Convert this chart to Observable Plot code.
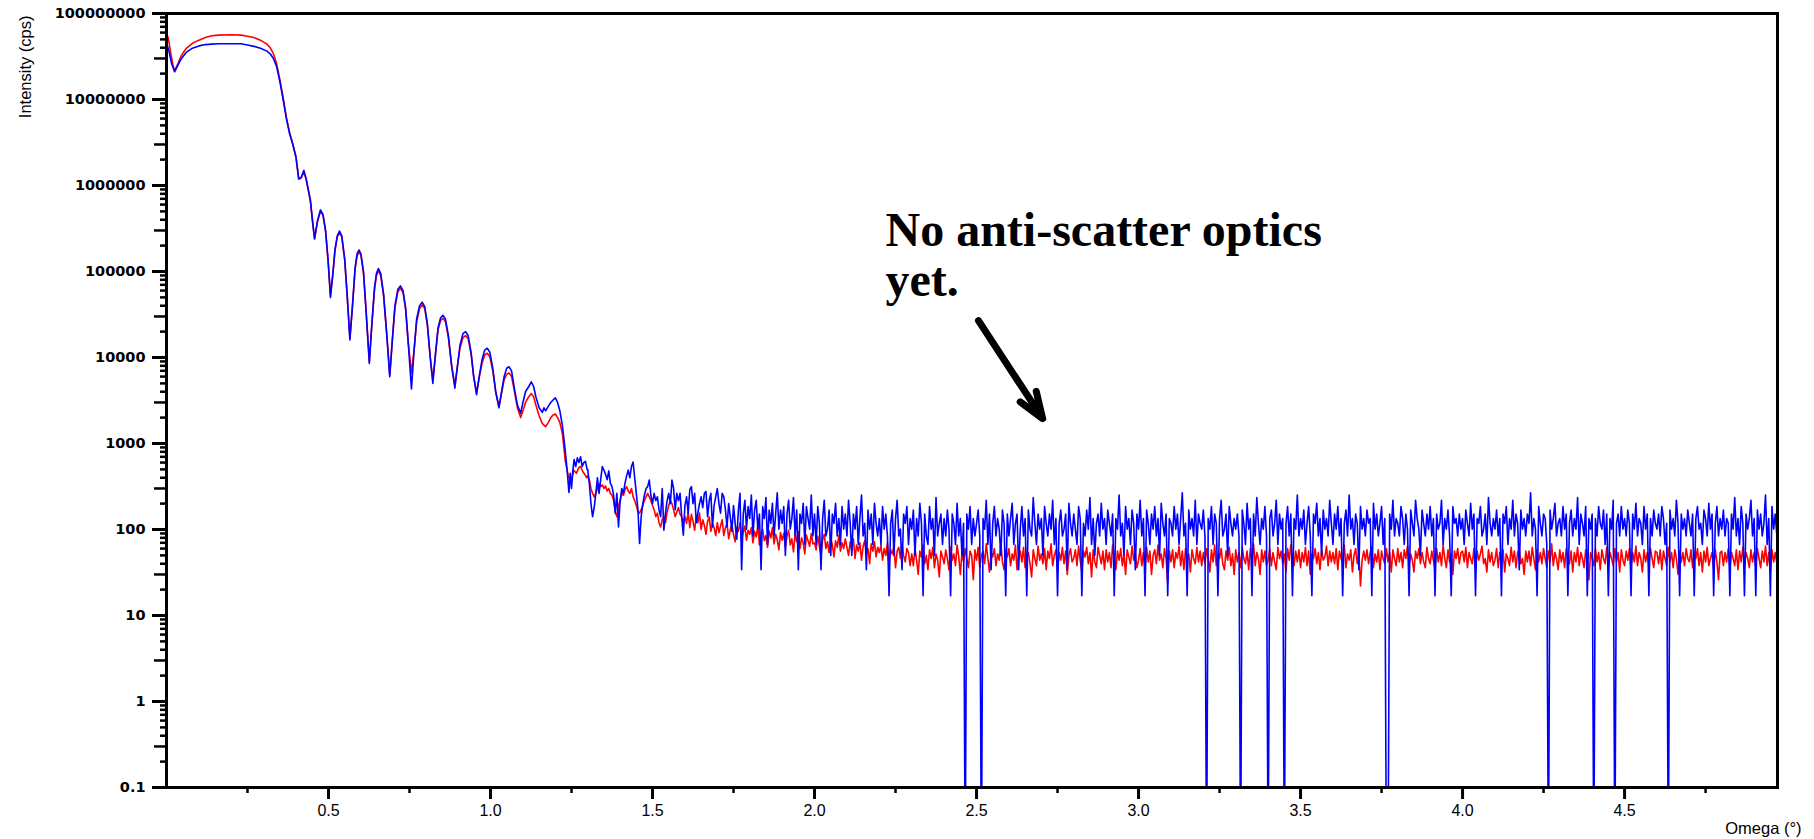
<!DOCTYPE html>
<html><head><meta charset="utf-8">
<script src="https://cdn.jsdelivr.net/npm/d3@7"></script>
<script src="https://cdn.jsdelivr.net/npm/@observablehq/plot@0.6"></script>
<style>html,body{margin:0;padding:0;background:#fff;} svg{display:block;}</style>
</head><body><div id="chart"></div>
<script>
// ---- smooth part (omega in degrees, intensity in cps) ----
const blueSmooth = [
[0,4.6e7],[0.008,3.6e7],[0.016,2.6e7],[0.025,2.1e7],[0.035,2.5e7],[0.045,2.95e7],[0.06,3.5e7],[0.08,3.95e7],[0.10,4.2e7],[0.12,4.35e7],
[0.14,4.4e7],[0.16,4.45e7],[0.20,4.45e7],[0.23,4.45e7],[0.25,4.3e7],[0.27,4.15e7],[0.29,3.95e7],[0.31,3.65e7],[0.32,3.4e7],[0.33,3.0e7],
[0.34,2.4e7],[0.35,1.6e7],[0.36,1.0e7],[0.37,6.0e6],[0.38,4.0e6],[0.39,3.0e6],[0.40,2.1e6],[0.408,1.2e6],[0.416,1.25e6],[0.424,1.5e6],
[0.431,1.2e6],[0.444,6.8e5],[0.451,3.8e5],[0.457,2.4e5],[0.466,3.9e5],[0.475,5.2e5],[0.483,4.6e5],[0.491,3.0e5],[0.499,1.3e5],[0.506,5.0e4],
[0.513,9e4],[0.52,1.8e5],[0.527,2.6e5],[0.534,2.95e5],[0.541,2.6e5],[0.55,1.4e5],[0.558,5e4],[0.566,1.6e4],[0.574,4e4],[0.582,1.1e5],
[0.588,1.6e5],[0.594,1.78e5],[0.60,1.6e5],[0.608,1.0e5],[0.616,3.5e4],[0.626,8.5e3],[0.634,2.5e4],[0.642,6.5e4],[0.648,9.5e4],[0.654,1.08e5],
[0.661,9.5e4],[0.67,5.5e4],[0.68,1.8e4],[0.689,6e3],[0.697,1.6e4],[0.705,4e4],[0.714,6.2e4],[0.722,6.8e4],[0.73,6e4],[0.738,3.8e4],
[0.746,1.5e4],[0.756,4.3e3],[0.764,1.2e4],[0.772,2.8e4],[0.781,4e4],[0.789,4.4e4],[0.797,3.9e4],[0.805,2.5e4],[0.814,1.0e4],[0.822,5e3],
[0.83,1.1e4],[0.838,2.2e4],[0.846,2.9e4],[0.853,3.1e4],[0.861,2.8e4],[0.87,1.8e4],[0.88,8e3],[0.89,4.4e3],[0.898,8e3],[0.906,1.4e4],
[0.915,1.9e4],[0.923,2.0e4],[0.931,1.8e4],[0.94,1.15e4],[0.948,6e3],[0.957,3.7e3],[0.965,6e3],[0.974,9.5e3],[0.982,1.22e4],[0.99,1.28e4],
[0.998,1.15e4],[1.007,7.5e3],[1.016,4e3],[1.026,2.6e3],[1.034,4e3],[1.042,6e3],[1.05,7.5e3],[1.057,7.8e3],[1.065,7e3],[1.073,4.5e3],
[1.083,2.8e3],[1.093,2.25e3],[1.10,3.0e3],[1.108,4.0e3],[1.118,4.6e3],[1.126,5.2e3],[1.133,4.6e3],[1.14,3.5e3],[1.15,2.6e3],[1.16,2.3e3],
[1.165,2.6e3],[1.17,2.4e3],[1.178,2.7e3],[1.186,3.0e3],[1.193,3.2e3],[1.2,3.4e3],[1.207,3.0e3],[1.214,2.4e3],[1.222,1.6e3],[1.231,800],
[1.238,420],[1.242,270],[1.246,450],[1.25,300],[1.254,480],[1.258,650],[1.263,540],[1.268,680],[1.273,600],[1.278,700],
[1.283,540],[1.288,600],[1.293,620],[1.298,500]
];
const redSmooth = [
[0,5.0e7],[0.004,5.4e7],[0.008,4.6e7],[0.014,3.3e7],[0.02,2.5e7],[0.025,2.15e7],[0.035,2.6e7],[0.045,3.2e7],[0.06,3.9e7],[0.08,4.5e7],
[0.10,4.9e7],[0.12,5.25e7],[0.14,5.5e7],[0.16,5.6e7],[0.20,5.65e7],[0.23,5.6e7],[0.25,5.45e7],[0.27,5.25e7],[0.29,4.9e7],[0.31,4.4e7],
[0.32,4.0e7],[0.33,3.4e7],[0.34,2.6e7],[0.35,1.7e7],[0.36,1.05e7],[0.37,6.2e6],[0.38,4.1e6],[0.39,3.0e6],[0.40,2.1e6],[0.408,1.18e6],
[0.416,1.22e6],[0.424,1.45e6],[0.431,1.17e6],[0.444,6.6e5],[0.451,3.7e5],[0.457,2.4e5],[0.466,3.8e5],[0.475,5.0e5],[0.483,4.5e5],[0.491,2.9e5],
[0.499,1.3e5],[0.506,5.3e4],[0.513,9e4],[0.52,1.75e5],[0.527,2.5e5],[0.534,2.85e5],[0.541,2.5e5],[0.55,1.35e5],[0.558,5e4],[0.566,1.7e4],
[0.574,4e4],[0.582,1.05e5],[0.588,1.5e5],[0.594,1.7e5],[0.60,1.55e5],[0.608,9.5e4],[0.616,3.4e4],[0.626,9e3],[0.634,2.5e4],[0.642,6.2e4],
[0.648,9e4],[0.654,1.03e5],[0.661,9e4],[0.67,5.2e4],[0.68,1.8e4],[0.689,6.3e3],[0.697,1.6e4],[0.705,3.8e4],[0.714,5.8e4],[0.722,6.4e4],
[0.73,5.7e4],[0.738,3.6e4],[0.746,1.5e4],[0.756,6.6e3],[0.764,1.2e4],[0.772,2.6e4],[0.781,3.7e4],[0.789,4.1e4],[0.797,3.7e4],[0.805,2.4e4],
[0.814,1.0e4],[0.822,5.5e3],[0.83,1.05e4],[0.838,2.1e4],[0.846,2.7e4],[0.853,2.85e4],[0.861,2.6e4],[0.87,1.7e4],[0.88,8e3],[0.89,4.8e3],
[0.898,8e3],[0.906,1.3e4],[0.915,1.7e4],[0.923,1.8e4],[0.931,1.65e4],[0.94,1.1e4],[0.948,6e3],[0.957,3.9e3],[0.965,5.8e3],[0.974,8.6e3],
[0.982,1.07e4],[0.99,1.12e4],[0.998,1.02e4],[1.007,7e3],[1.016,4e3],[1.026,2.7e3],[1.034,3.8e3],[1.042,5.5e3],[1.05,6.4e3],[1.057,6.6e3],
[1.065,6e3],[1.073,4.2e3],[1.083,2.6e3],[1.093,2.0e3],[1.10,2.4e3],[1.108,3.0e3],[1.118,3.5e3],[1.126,3.8e3],[1.133,3.5e3],[1.14,2.8e3],
[1.15,2.1e3],[1.16,1.7e3],[1.17,1.57e3],[1.178,1.75e3],[1.186,2.0e3],[1.193,2.15e3],[1.2,2.2e3],[1.207,2.0e3],[1.214,1.75e3],[1.222,1.3e3],
[1.231,620],[1.24,420],[1.248,350],[1.257,490],[1.265,450],[1.272,520],[1.278,540],[1.285,470],[1.292,430],[1.297,400]
];

// ---- noisy part: regular omega grid from 1.30 in steps of 0.005 (one row = 0.1 deg) ----
const noiseStart = 1.30;
const noiseStep = 0.005;
const blueNoise = [
500,344,200,141,180,263,400,263,380,540,490,440,380,480,344,315,250,155,263,107,
210,300,263,344,420,490,400,540,610,400,263,170,69,141,200,250,300,315,376,250,
200,263,217,240,170,141,300,98,155,217,263,200,376,300,170,263,217,263,141,86,
190,240,155,290,315,200,263,120,155,200,240,180,263,277,141,217,263,107,190,240,
300,200,155,263,240,170,107,200,141,95,190,118,77,168,263,34,151,218,101,185,
134,252,84,168,218,101,151,34,185,134,235,67,168,118,202,84,151,268,101,168,
118,185,50,151,218,101,134,235,84,168,34,151,118,202,67,185,134,101,252,84,
151,67,185,118,34,134,218,84,101,168,50,151,118,202,84,134,67,185,101,151,
84,218,118,50,151,101,185,67,134,252,84,118,34,168,101,151,67,202,118,84,
134,67,185,101,151,84,17,118,168,50,134,218,84,101,34,151,118,185,67,134,
101,168,50,134,84,202,118,17,151,84,67,185,101,134,50,235,84,118,151,67,
134,84,168,101,17,151,118,67,202,84,134,50,118,0,151,101,185,67,134,84,
118,168,84,0,134,101,218,67,151,34,118,185,84,134,101,50,168,118,17,151,
84,134,202,67,118,151,34,101,185,84,134,17,168,101,84,235,118,67,151,101,
134,50,185,118,84,151,101,218,67,134,17,118,168,84,101,151,34,202,118,84,
151,101,67,185,134,17,118,84,168,101,235,67,134,50,118,151,84,202,101,134,
67,168,118,84,151,17,134,101,252,84,118,50,185,101,134,67,168,118,34,151,
101,218,84,134,17,168,118,67,151,101,185,84,134,50,202,118,84,151,17,134,
118,84,185,101,151,67,134,268,84,118,17,168,101,134,84,218,67,151,118,101,
168,84,0,134,101,185,67,151,118,17,134,218,84,101,151,50,185,118,84,134,
101,151,84,0,168,118,67,202,101,134,17,151,84,235,118,67,134,101,185,84,
0,134,168,84,118,218,67,151,101,134,0,118,185,84,151,17,134,101,252,84,
134,101,168,67,118,185,84,17,151,118,202,84,134,50,168,101,134,84,218,118,
67,151,101,185,84,134,17,118,168,84,252,101,134,67,151,118,34,185,101,134,
84,168,118,134,17,202,101,151,84,118,185,67,134,0,0,151,101,218,84,134,
118,84,185,134,67,151,101,17,168,118,84,218,134,101,50,168,118,84,151,101,
185,84,134,17,151,101,118,218,67,134,101,168,84,17,185,118,134,84,151,101,
134,67,168,118,84,202,101,151,17,134,118,185,84,101,151,67,235,118,84,134,
101,168,84,134,17,151,118,185,67,134,101,218,84,151,118,34,168,101,134,84,
151,118,268,84,134,101,17,185,118,84,151,134,67,0,168,101,134,202,84,118,
134,84,185,101,151,17,118,168,84,134,101,235,67,151,118,84,185,17,134,101,
151,0,134,84,185,118,101,168,67,151,17,134,101,218,0,118,151,84,185,101,
134,84,168,118,17,151,101,202,84,134,118,67,185,101,151,17,134,84,168,118,
101,151,84,185,134,67,118,0,168,101,134,84,218,118,17,151,101,134,84,168,
118,84,151,17,134,185,101,118,67,168,134,84,202,101,151,17,118,185,84,134,
101,168,84,134,118,17,151,101,235,84,134,67,185,118,17,151,101,134,218,84,
134,17,168,101,151,84,118,252,67,134,17,185,101,151,84
];
const redNoise = [
420,376,300,263,240,263,300,340,315,330,300,320,280,300,263,250,217,160,141,190,
217,263,250,290,315,280,263,300,240,217,190,160,155,170,190,217,240,263,240,217,
190,170,141,155,120,107,130,141,120,160,190,217,200,170,141,160,180,150,141,120,
141,118,160,105,150,125,98,140,120,155,100,130,112,88,125,140,95,118,105,85,
120,92,110,130,85,105,118,78,100,115,88,72,105,95,120,80,92,110,75,98,
88,105,70,95,82,110,66,90,100,74,85,62,96,80,105,68,88,76,58,92,
75,90,62,84,98,66,78,55,88,72,94,60,80,70,52,86,74,64,90,68,
70,58,84,64,50,76,88,60,72,54,80,66,48,74,62,85,56,70,60,78,
62,50,72,58,78,46,66,56,70,44,64,74,52,60,40,68,56,72,48,62,
54,66,44,60,50,70,40,58,52,64,36,56,62,46,68,50,42,60,54,38,
52,38,60,44,30,56,48,66,40,50,34,58,46,62,36,52,44,28,56,48,
40,58,46,34,62,44,52,38,66,48,30,54,42,60,46,36,56,50,26,58,
44,62,36,50,56,40,68,46,32,54,48,60,38,52,44,70,42,34,58,48,
60,38,52,44,66,34,50,56,42,62,36,48,54,40,28,58,46,38,64,44,
52,40,60,34,56,46,68,38,50,58,32,54,44,62,40,56,30,50,60,42,
46,58,38,64,44,32,56,48,62,40,54,28,58,42,36,62,50,40,56,34,
58,42,54,36,66,46,34,56,44,60,38,52,30,58,48,40,64,44,54,36,
44,60,38,54,34,62,42,56,30,50,58,40,66,44,52,36,60,46,24,56,
42,58,36,54,46,64,38,56,34,60,44,52,32,58,46,40,62,42,56,38,
54,40,60,46,32,58,42,66,38,52,46,60,40,34,56,44,62,38,52,30,
58,42,54,36,62,46,40,56,34,60,44,68,38,54,46,30,58,42,56,38,
44,60,38,54,42,34,62,46,56,40,52,32,60,44,66,46,38,56,42,58,
36,54,42,62,38,56,30,52,46,60,40,54,34,58,44,48,64,38,56,42,
54,40,60,34,56,46,42,66,36,52,44,58,32,50,60,40,54,22,44,56,
44,58,40,54,62,36,52,42,58,34,56,46,40,60,42,54,32,58,46,38,
60,42,54,36,58,46,64,38,52,44,32,56,46,60,40,54,42,36,62,46,
40,56,44,34,60,42,54,38,66,46,36,58,42,52,30,56,46,60,40,54,
56,42,62,36,54,46,40,60,34,56,44,52,64,40,46,32,58,42,54,38,
44,60,36,54,42,58,32,52,46,38,62,42,56,36,54,60,40,46,30,56,
42,56,38,62,46,34,58,42,54,40,60,46,36,56,42,68,38,54,46,34,
58,42,54,36,60,46,40,56,32,54,42,62,38,54,46,36,58,42,26,54,
46,38,60,42,54,34,58,46,40,62,36,54,46,38,60,42,54,32,58,44,
38,56,44,60,36,54,42,64,38,54,46,32,58,42,54,38,60,46,36,56,
54,40,58,34,56,46,38,62,42,54,36,58,46,30,56,42,54,38,60,46,
42,58,36,54,46,60,38,54,32,56,42,62,38,46,54,36,58,42,26,54,
56,38,54,42,60,36,54,46,38,58,34,56,42,62,38,54,46,36,58,42,
54,38,60,46,36,56,42,64,38,54,32,58,42,54,40
];

// ---- axes ----
const xDomain = [0, 4.972];
const yDomain = [0.1, 1e8];
const xMajorTicks = [0.5, 1.0, 1.5, 2.0, 2.5, 3.0, 3.5, 4.0, 4.5];
const xMajorLabels = ["0.5","1.0","1.5","2.0","2.5","3.0","3.5","4.0","4.5"];
const xMinorTicks = [0.25, 0.75, 1.25, 1.75, 2.25, 2.75, 3.25, 3.75, 4.25, 4.75];
const yMajorTicks = [0.1, 1, 10, 100, 1000, 10000, 100000, 1000000, 10000000, 100000000];
const yMajorLabels = ["0.1","1","10","100","1000","10000","100000","1000000","10000000","100000000"];
const yThreeTicks = [0.3, 3, 30, 300, 3000, 30000, 300000, 3000000, 30000000];
const yMinorMantissas = [2, 4, 5, 6, 7, 8, 9];

// ---- annotation ----
const noteText = "No anti-scatter optics\nyet.";
const noteAt = {omega: 2.219, cps: 5.24e4};
const arrowFrom = {omega: 2.506, cps: 2.68e4};
const arrowTo = {omega: 2.704, cps: 1945};

// build tables
const toRows = (pairs) => pairs.map(([omega, cps]) => ({omega, cps}));
const noiseRows = (vals) => vals.map((cps, i) => ({omega: noiseStart + i * noiseStep, cps}));
const blueData = toRows(blueSmooth).concat(noiseRows(blueNoise));
const redData = toRows(redSmooth).concat(noiseRows(redNoise));
const yMinorTicks = yMajorTicks.slice(0, -1).flatMap(p => yMinorMantissas.map(m => m * p));
const floorY = d => d.cps > 0 ? d.cps : 0.01; // zero counts fall off the log axis

const chart = Plot.plot({
  width: 1814,
  height: 839,
  marginLeft: 166,
  marginRight: 37,
  marginTop: 13,
  marginBottom: 52,
  style: {background: "#fff", color: "#000"},
  x: {type: "linear", domain: xDomain},
  y: {type: "log", domain: yDomain},
  marks: [
    Plot.line(redData, {x: "omega", y: floorY, stroke: "#ff0000", strokeWidth: 1.6, clip: true}),
    Plot.line(blueData, {x: "omega", y: floorY, stroke: "#0000ff", strokeWidth: 1.6, clip: true}),
    Plot.frame({stroke: "#000", strokeWidth: 3}),
    Plot.axisX({ticks: xMajorTicks, tickSize: 12, tickPadding: 5, strokeWidth: 3, label: null,
      tickFormat: d => xMajorLabels[xMajorTicks.indexOf(d)], fontSize: 16, fontFamily: "Liberation Sans, Arial, sans-serif"}),
    Plot.axisX({ticks: xMinorTicks, tickSize: 6, strokeWidth: 2.5, label: null, tickFormat: () => ""}),
    Plot.axisY({ticks: yMajorTicks, tickSize: 14, tickPadding: 7, strokeWidth: 3, label: null,
      tickFormat: d => yMajorLabels[yMajorTicks.indexOf(d)], fontSize: 14.5, fontWeight: "bold", fontFamily: "DejaVu Sans, sans-serif"}),
    Plot.axisY({ticks: yThreeTicks, tickSize: 12, tickPadding: 9, strokeWidth: 2.5, label: null,
      tickFormat: () => "3", fontSize: 14, fontFamily: "Liberation Sans, Arial, sans-serif"}),
    Plot.axisY({ticks: yMinorTicks, tickSize: 6, strokeWidth: 2.5, label: null, tickFormat: () => ""}),
    Plot.text(["Intensity (cps)"], {frameAnchor: "top-left", rotate: -90, textAnchor: "end", dx: -147, dy: 2,
      fontSize: 16.5, fontFamily: "Liberation Sans, Arial, sans-serif", fill: "#000"}),
    Plot.text(["Omega (°)"], {frameAnchor: "bottom-right", textAnchor: "end", dx: 24, dy: 46,
      fontSize: 16.5, fontFamily: "Liberation Sans, Arial, sans-serif", fill: "#000"}),
    Plot.text([noteAt], {x: "omega", y: "cps", text: () => noteText, textAnchor: "start", lineAnchor: "bottom",
      lineHeight: 1.04, fontSize: 48, fontWeight: "bold", fontFamily: "Liberation Serif, Times New Roman, serif", fill: "#000"}),
    Plot.arrow([{from: arrowFrom, to: arrowTo}], {x1: d => d.from.omega, y1: d => d.from.cps, x2: d => d.to.omega, y2: d => d.to.cps,
      stroke: "#000", strokeWidth: 7, headAngle: 40, headLength: 6})
  ]
});
document.getElementById("chart").appendChild(chart);
</script>
</body></html>
